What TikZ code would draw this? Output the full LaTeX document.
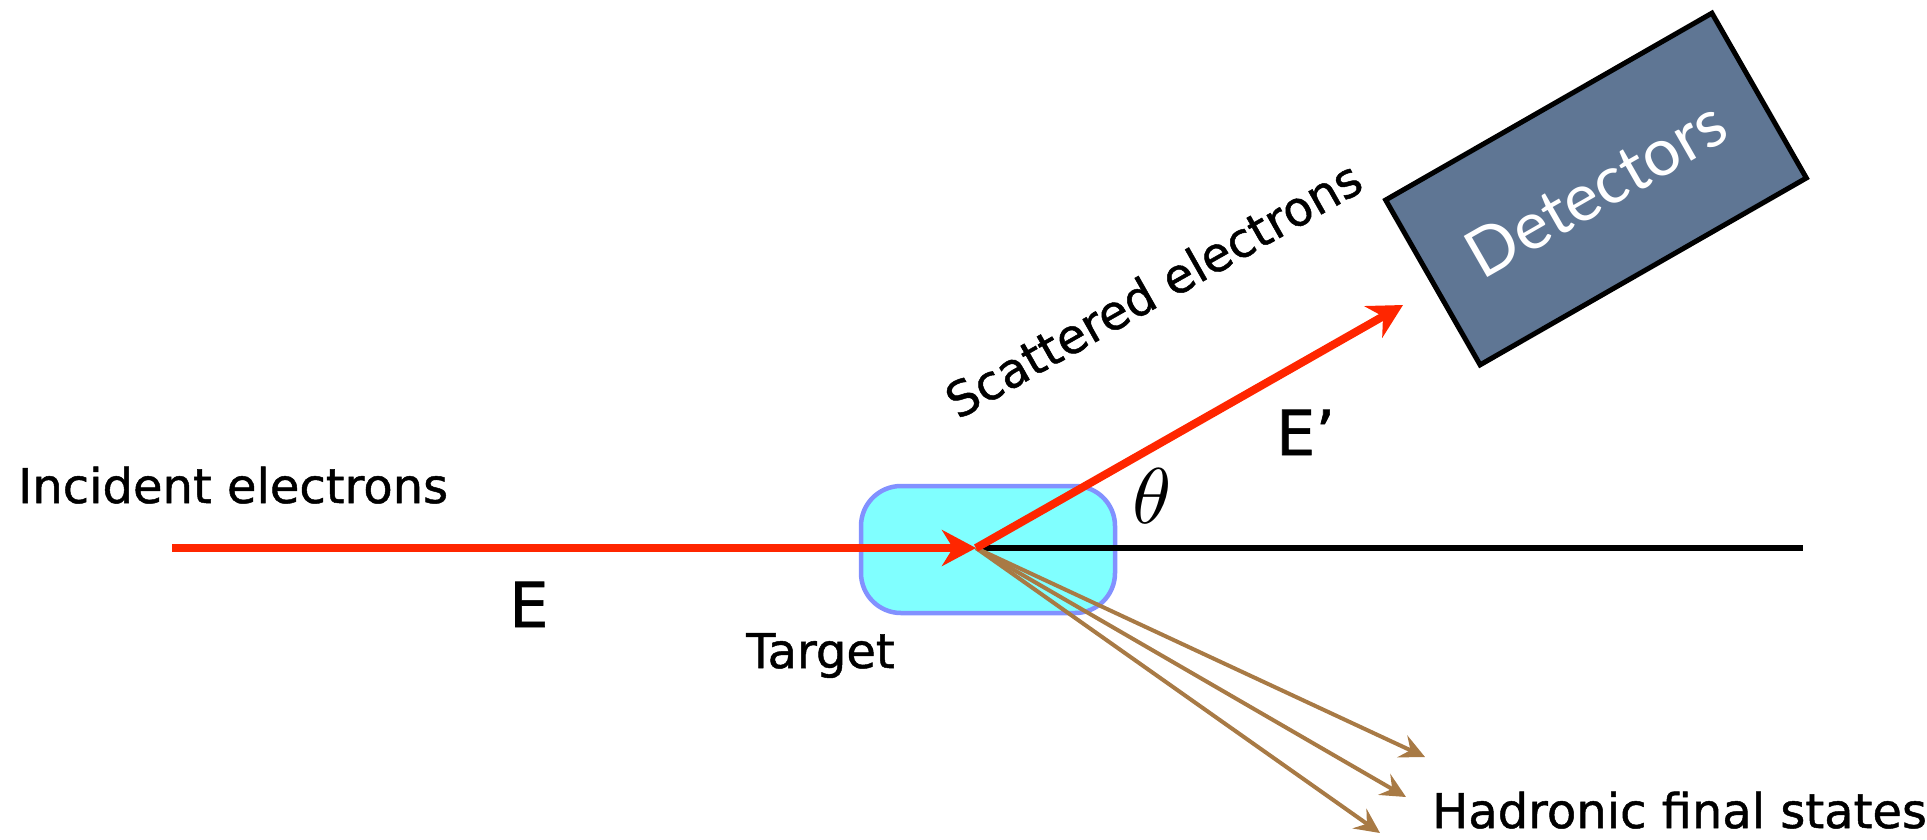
\documentclass[tikz,border=0pt]{standalone}
\usepackage{fontspec}
\usepackage{graphicx}
\setmainfont{DejaVu Sans}[UprightFeatures={FakeBold=1.0}]
\newfontfamily\detfont{Lato}
\usetikzlibrary{arrows.meta}
\definecolor{beamred}{RGB}{255,38,0}
\definecolor{hadbrown}{RGB}{168,122,69}
\definecolor{tgtfill}{RGB}{128,255,255}
\definecolor{tgtdraw}{RGB}{130,145,255}
\definecolor{detfill}{RGB}{95,118,148}
\tikzset{
  lbl/.style={inner sep=0pt, font=\fontsize{48}{48}\selectfont},
  biglbl/.style={inner sep=0pt, font=\fontsize{62}{62}\selectfont},
  beam/.style={draw=beamred, line width=8pt, -{Stealth[length=34pt,width=36pt,inset=11pt]}},
  axisline/.style={draw=black, line width=5.5pt},
  hadron/.style={draw=hadbrown, line width=4pt, -{Stealth[length=25pt,width=24pt,inset=9pt]}},
  targetbox/.style={draw=tgtdraw, fill=tgtfill, line width=4.5pt, rounded corners=40pt,
    minimum width=254pt, minimum height=127pt, inner sep=0pt},
  detbox/.style={draw=black, fill=detfill, line width=5pt, minimum width=376pt,
    minimum height=190pt, inner sep=0pt, text=white,
    font=\detfont\fontsize{66}{66}\selectfont}
}
\begin{document}
\begin{tikzpicture}[x=1pt,y=-1pt]
\useasboundingbox (0,0) rectangle (1927,839);
% target
\node[targetbox] (target) at (988,549.5) {};
% coordinates
\coordinate (v) at (976,548);
\coordinate (start) at (172,548);
\coordinate (axisend) at (1803,548);
\coordinate (scatend) at (1403,305);
\coordinate (h1) at (1425,757);
\coordinate (h2) at (1406,797);
\coordinate (h3) at (1380,833);
% detector
\node[detbox, rotate=29.8] (det) at (1596,189) {\raisebox{-8pt}{Detectors}};
% lines
\draw[axisline] (v) -- (axisend);
\draw[hadron] (v) -- (h1);
\draw[hadron] (v) -- (h2);
\draw[hadron] (v) -- (h3);
\draw[beam] (v) -- (scatend);
\draw[beam] (start) -- (v);
% labels
\node[lbl, anchor=base west] (inc) at (18,503) {Incident electrons};
\node[biglbl, anchor=base] (E) at (529,627) {E};
\node[lbl, anchor=base west] (tgt) at (746,668) {Target};
\node[biglbl, anchor=base west] (Ep) at (1276,455) {E’};
\node[inner sep=0pt] (theta) at (1152,496) {\scalebox{7.9}{$\theta$}};
\node[lbl, anchor=base west, rotate=29.5] (scat) at (958,420) {Scattered electrons};
\node[lbl, anchor=base west] (had) at (1432,828) {Hadronic final states};
\end{tikzpicture}
\end{document}
